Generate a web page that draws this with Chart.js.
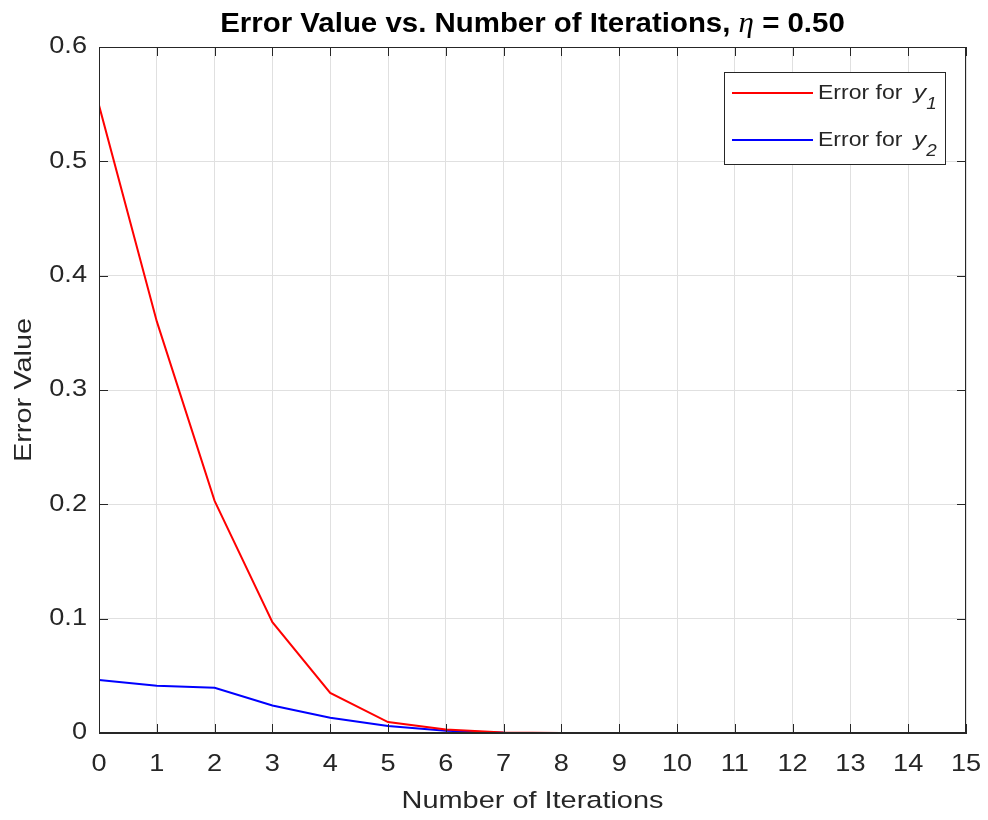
<!DOCTYPE html>
<html><head><meta charset="utf-8">
<script src="https://cdn.jsdelivr.net/npm/chart.js@4"></script>
<style>html,body{margin:0;padding:0;background:#fff;}#wrap{width:988px;height:820px;}</style>
</head><body><div id="wrap"><canvas id="c" width="988" height="820"></canvas></div>
<script>
const iterations = [0,1,2,3,4,5,6,7,8,9,10,11,12,13,14,15];
const errorY1 = [0.549,0.360,0.203,0.097,0.035,0.0096,0.003,0.0005,0,0,0,0,0,0,0,0];
const errorY2 = [0.0464,0.0414,0.0396,0.024,0.0134,0.0061,0.002,0.0003,0,0,0,0,0,0,0,0];
const seriesSubscripts = ['1','2'];
const titleParts = ['Error Value vs. Number of Iterations, ', 'η', ' = 0.50'];
const FONT = '"Liberation Sans", Arial, Helvetica, sans-serif';
const AX = '#262626';
const STRETCH = 1.18;

const stretchPlugin = {
  id:'stretch',
  beforeInit(chart){
    const ctx = chart.ctx;
    const base = CanvasRenderingContext2D.prototype.fillText;
    ctx.fillText = function(t,x,y,mw){
      const s = this.__sx || STRETCH;
      this.save(); this.translate(x,y); this.scale(s,1);
      if (mw !== undefined) base.call(this,t,0,0,mw/s); else base.call(this,t,0,0);
      this.restore();
    };
  }
};

const boxPlugin = {
  id:'box',
  afterDraw(chart){
    const {ctx, chartArea:a, scales:{x,y}} = chart;
    ctx.save();
    ctx.strokeStyle = AX; ctx.lineWidth = 1;
    ctx.strokeRect(Math.round(a.left)+0.5, Math.round(a.top)+0.5, Math.round(a.right-a.left)-1, Math.round(a.bottom-a.top)-1);
    const L = 9;
    ctx.beginPath();
    x.ticks.forEach(t=>{
      const px = Math.round(x.getPixelForValue(t.value))+0.5;
      ctx.moveTo(px,a.bottom); ctx.lineTo(px,a.bottom-L);
      ctx.moveTo(px,a.top); ctx.lineTo(px,a.top+L);
    });
    y.ticks.forEach(t=>{
      const py = Math.round(y.getPixelForValue(t.value))+0.5;
      ctx.moveTo(a.left,py); ctx.lineTo(a.left+L,py);
      ctx.moveTo(a.right,py); ctx.lineTo(a.right-L,py);
    });
    ctx.stroke();
    // Title
    const TS = 1.07;
    ctx.__sx = TS;
    ctx.fillStyle = '#000';
    ctx.textBaseline = 'alphabetic'; ctx.textAlign='left';
    const bold = 'bold 27.5px ' + FONT, ital = 'italic 29px "Liberation Serif", "Times New Roman", serif';
    ctx.font = bold;
    const w1 = ctx.measureText(titleParts[0]).width*TS, w3 = ctx.measureText(titleParts[2]).width*TS;
    ctx.font = ital;
    const w2 = ctx.measureText(titleParts[1]).width*TS;
    let sx = (a.left+a.right)/2 - (w1+w2+w3)/2;
    const by = 32;
    ctx.font = bold; ctx.fillText(titleParts[0], sx, by); sx += w1;
    ctx.font = ital; ctx.fillText(titleParts[1], sx, by); sx += w2;
    ctx.font = bold; ctx.fillText(titleParts[2], sx, by);
    ctx.__sx = STRETCH;
    // Legend
    const lx = 724, ly = 72, lw = 221, lh = 92;
    ctx.fillStyle = '#fff';
    ctx.fillRect(lx, ly, lw, lh);
    ctx.strokeStyle = AX; ctx.lineWidth = 1;
    ctx.strokeRect(lx+0.5, ly+0.5, lw, lh);
    chart.data.datasets.forEach((ds,i)=>{
      const yy = ly + 21 + i*47;
      ctx.strokeStyle = ds.borderColor; ctx.lineWidth = 2;
      ctx.beginPath(); ctx.moveTo(lx+8, yy); ctx.lineTo(lx+89, yy); ctx.stroke();
      ctx.fillStyle = AX; ctx.textBaseline='alphabetic';
      ctx.font = '19.5px ' + FONT;
      const tb = yy + 6;
      let tx = lx + 94;
      const main = ds.label.replace(/ y\d$/, ' ');
      ctx.fillText(main, tx, tb); tx += ctx.measureText(main).width*STRETCH + 5;
      ctx.font = 'italic 21px ' + FONT;
      ctx.fillText('y', tx, tb); tx += ctx.measureText('y').width*STRETCH;
      ctx.font = 'italic 16px ' + FONT;
      ctx.fillText(seriesSubscripts[i], tx, tb + 10);
    });
    ctx.restore();
  }
};

new Chart(document.getElementById('c'), {
  type:'line',
  data:{
    labels: iterations,
    datasets:[
      {label:'Error for y1', data: iterations.map((v,i)=>({x:v,y:errorY1[i]})), borderColor:'#ff0000', borderWidth:2, pointRadius:0, tension:0, fill:false},
      {label:'Error for y2', data: iterations.map((v,i)=>({x:v,y:errorY2[i]})), borderColor:'#0000ff', borderWidth:2, pointRadius:0, tension:0, fill:false}
    ]
  },
  options:{
    responsive:false, animation:false,
    layout:{padding:{left:0,right:22,top:47,bottom:0}},
    plugins:{legend:{display:false}, title:{display:false}, tooltip:{enabled:false}},
    scales:{
      x:{type:'linear', min:0, max:15,
         ticks:{stepSize:1, color:AX, font:{family:FONT,size:23}, padding:18, maxRotation:0, autoSkip:false},
         grid:{color:'#e0e0e0', drawTicks:false},
         border:{color:AX},
         title:{display:true, text:'Number of Iterations', color:AX, font:{family:FONT,size:24.5}, padding:{top:0,bottom:4}},
         afterFit(s){ s.height = 87; s.paddingLeft = 0; s.paddingRight = 0; }
      },
      y:{min:0, max:0.6,
         ticks:{stepSize:0.1, color:AX, font:{family:FONT,size:23}, padding:12},
         grid:{color:'#e0e0e0', drawTicks:false},
         border:{color:AX},
         title:{display:true, text:'Error Value', color:AX, font:{family:FONT,size:24.5}, padding:{top:10,bottom:0}},
         afterFit(s){ s.width = 99; s.paddingTop = 0; s.paddingBottom = 0; }
      }
    }
  },
  plugins:[stretchPlugin, boxPlugin]
});
</script></body></html>
